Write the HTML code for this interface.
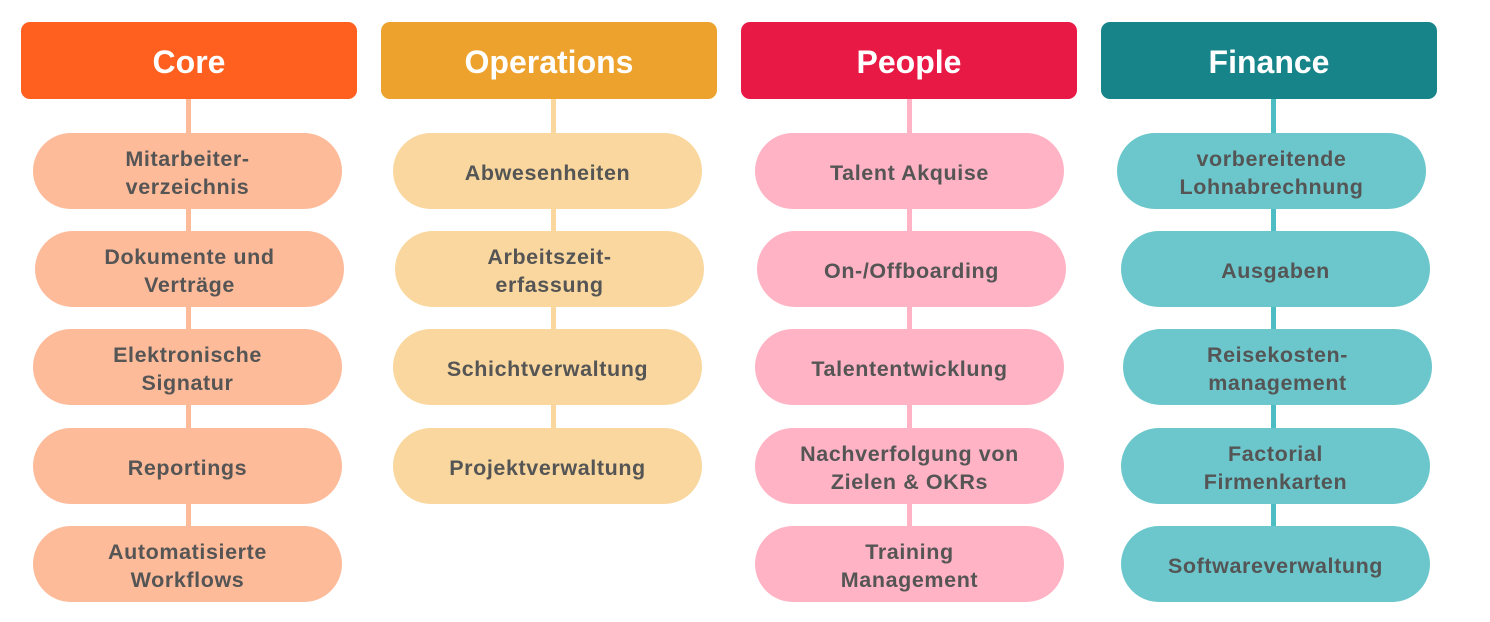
<!DOCTYPE html>
<html><head><meta charset="utf-8"><style>
body{margin:0;width:1490px;height:622px;background:#fff;position:relative;overflow:hidden;font-family:"Liberation Sans",sans-serif}
.h{position:absolute;top:22px;width:336px;height:77px;border-radius:9px;color:#fff;font-weight:bold;font-size:32px;display:flex;align-items:center;justify-content:center;padding-top:3px;box-sizing:border-box}
.l{position:absolute;width:5px;top:99px;height:455px}
.p{position:absolute;width:309px;height:76px;border-radius:38px;color:#555;font-weight:bold;font-size:21.5px;line-height:28px;display:flex;align-items:center;justify-content:center;text-align:center;letter-spacing:0.6px;padding-top:3px;box-sizing:border-box}
</style></head><body>
<div class="l" style="left:186px;background:#FDBB9A"></div>
<div class="l" style="left:551px;height:340px;background:#F9D79E"></div>
<div class="l" style="left:907px;background:#FFB3C4"></div>
<div class="l" style="left:1271px;background:#4BBDC3"></div>
<div class="h" style="left:21px;background:#FF5F1F">Core</div>
<div class="h" style="left:381px;background:#EDA22D">Operations</div>
<div class="h" style="left:741px;background:#E81A45">People</div>
<div class="h" style="left:1101px;background:#17848A">Finance</div>

<div class="p" style="left:33px;top:133px;background:#FDBB9A">Mitarbeiter-<br>verzeichnis</div>
<div class="p" style="left:35px;top:231px;background:#FDBB9A">Dokumente und<br>Verträge</div>
<div class="p" style="left:33px;top:329px;background:#FDBB9A">Elektronische<br>Signatur</div>
<div class="p" style="left:33px;top:428px;background:#FDBB9A">Reportings</div>
<div class="p" style="left:33px;top:526px;background:#FDBB9A">Automatisierte<br>Workflows</div>

<div class="p" style="left:393px;top:133px;background:#F9D79E">Abwesenheiten</div>
<div class="p" style="left:395px;top:231px;background:#F9D79E">Arbeitszeit-<br>erfassung</div>
<div class="p" style="left:393px;top:329px;background:#F9D79E">Schichtverwaltung</div>
<div class="p" style="left:393px;top:428px;background:#F9D79E">Projektverwaltung</div>

<div class="p" style="left:755px;top:133px;background:#FFB3C4">Talent Akquise</div>
<div class="p" style="left:757px;top:231px;background:#FFB3C4">On-/Offboarding</div>
<div class="p" style="left:755px;top:329px;background:#FFB3C4">Talententwicklung</div>
<div class="p" style="left:755px;top:428px;background:#FFB3C4">Nachverfolgung von<br>Zielen &amp; OKRs</div>
<div class="p" style="left:755px;top:526px;background:#FFB3C4">Training<br>Management</div>

<div class="p" style="left:1117px;top:133px;background:#6BC7CC">vorbereitende<br>Lohnabrechnung</div>
<div class="p" style="left:1121px;top:231px;background:#6BC7CC">Ausgaben</div>
<div class="p" style="left:1123px;top:329px;background:#6BC7CC">Reisekosten-<br>management</div>
<div class="p" style="left:1121px;top:428px;background:#6BC7CC">Factorial<br>Firmenkarten</div>
<div class="p" style="left:1121px;top:526px;background:#6BC7CC">Softwareverwaltung</div>
</body></html>
